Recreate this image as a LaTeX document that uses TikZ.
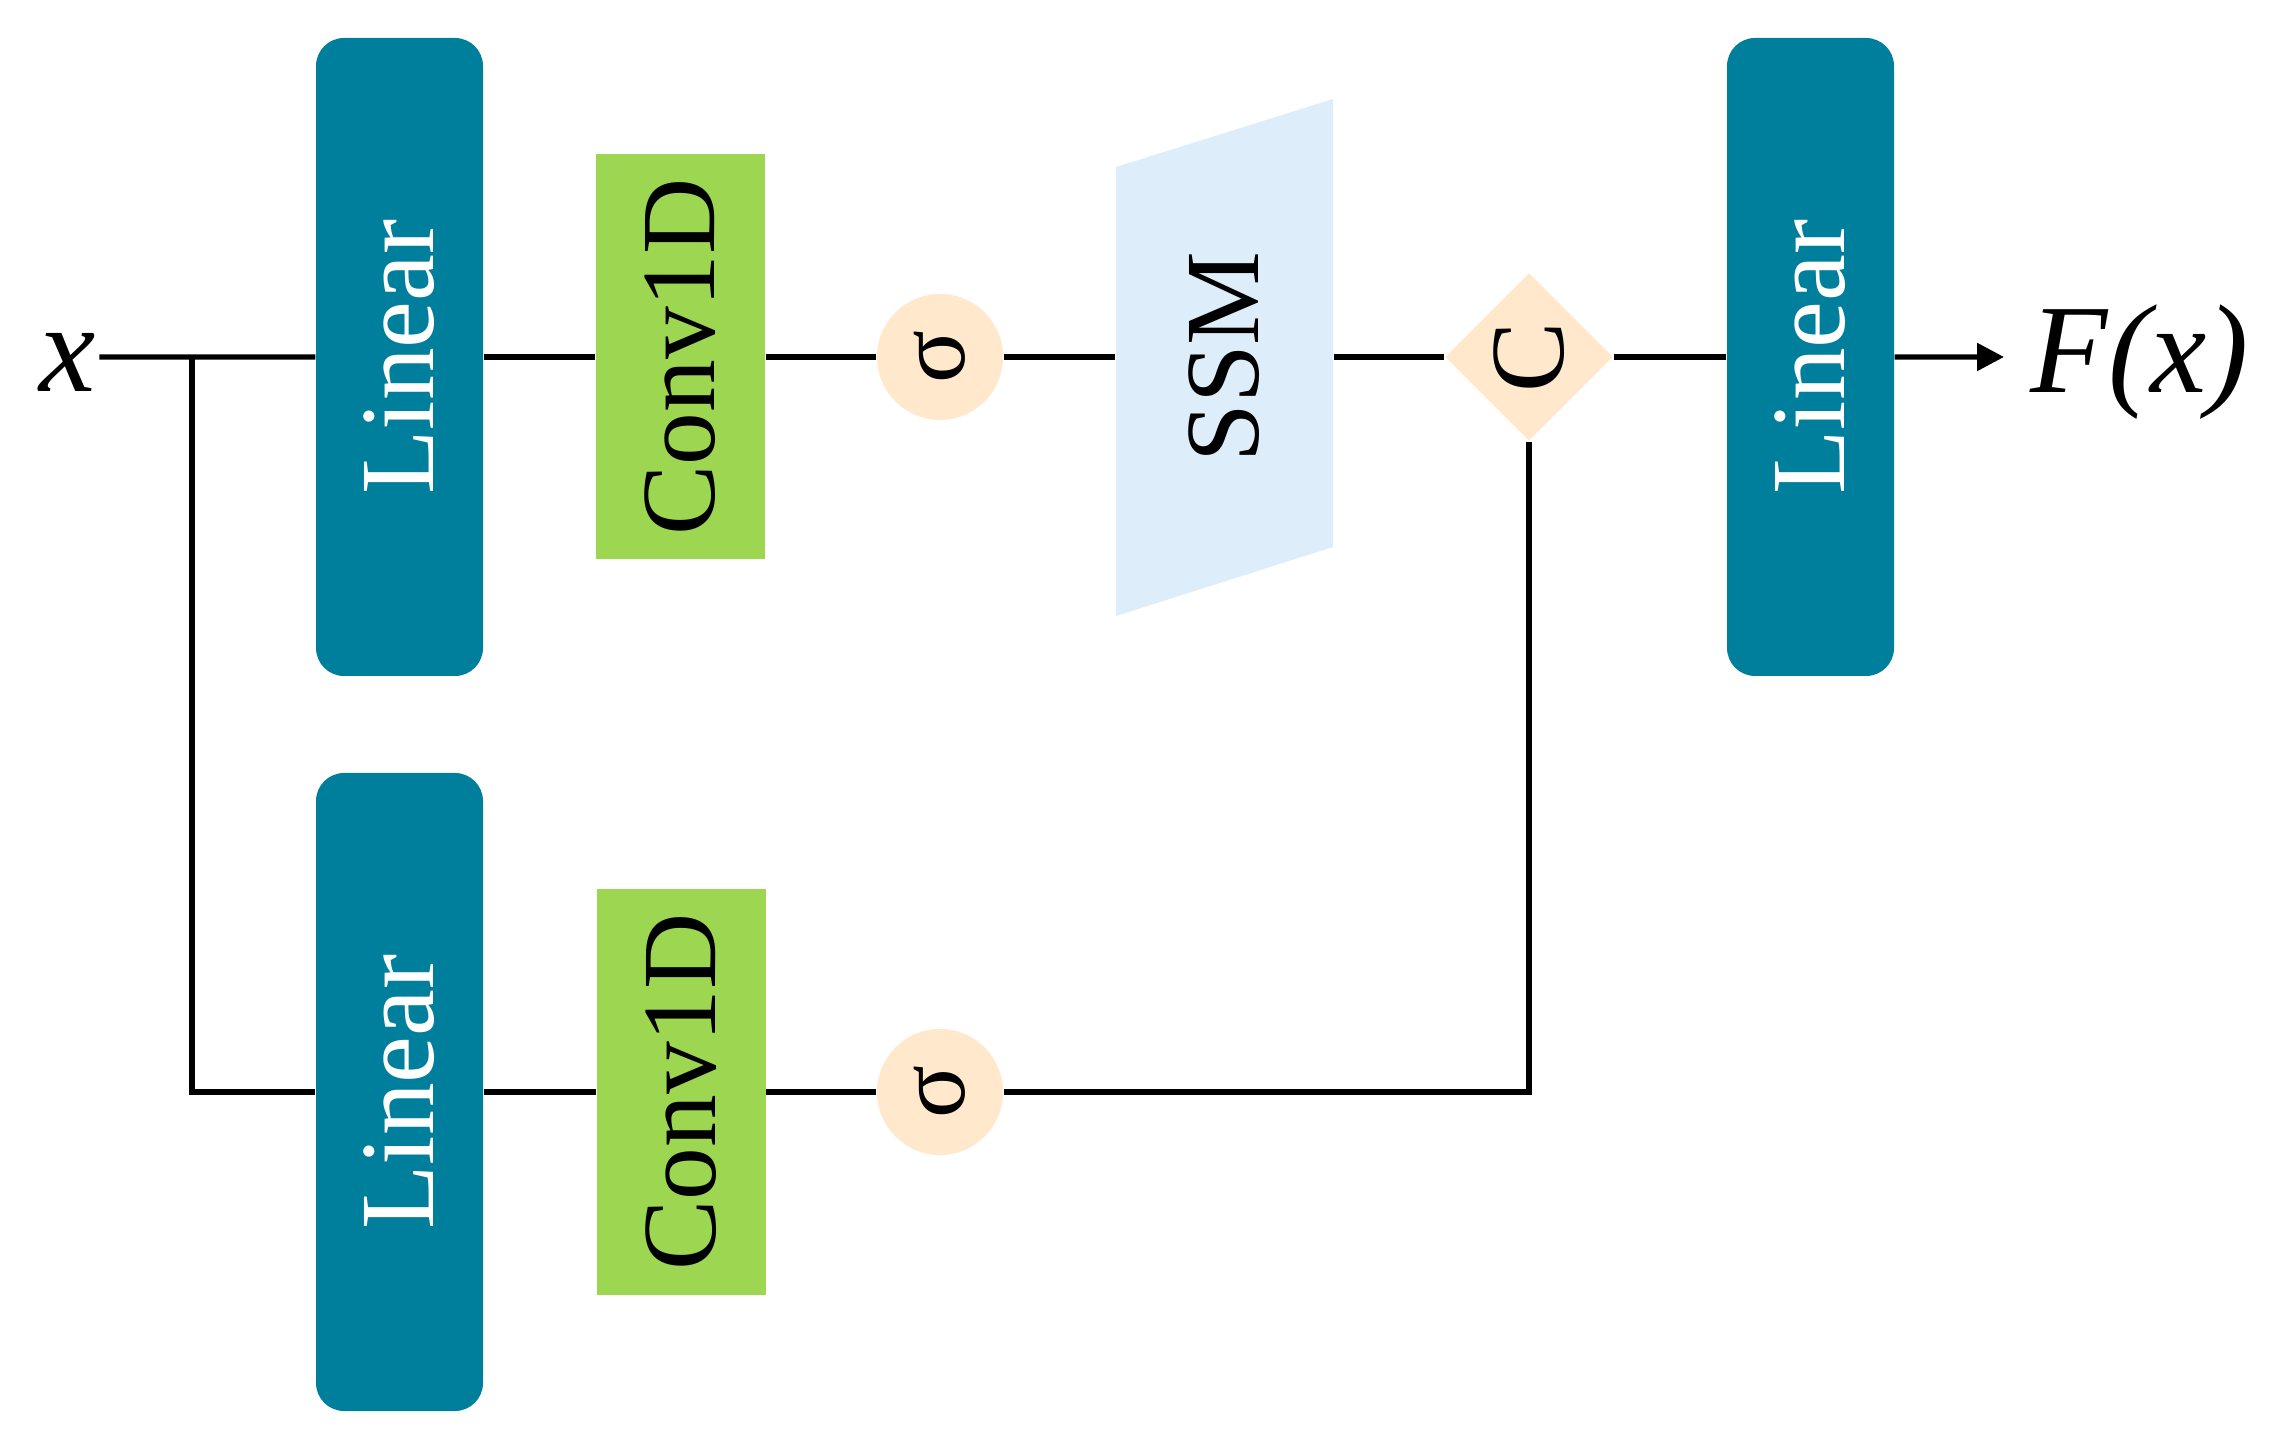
\documentclass[tikz,border=0pt]{standalone}
\usepackage{fontspec}
\setmainfont{Liberation Serif}
\usepackage{graphicx}
\usetikzlibrary{arrows.meta,shapes.geometric,calc}
\definecolor{tealbox}{HTML}{007F9D}
\definecolor{greenbox}{HTML}{9DD651}
\definecolor{ssmblue}{HTML}{DDEDF9}
\definecolor{peach}{HTML}{FFE8CC}
\begin{document}
\begin{tikzpicture}[
  bigfont/.style={font=\fontsize{30}{36}\selectfont},
  linbox/.style={rectangle, rounded corners=0.28cm, fill=tealbox, text=white,
    minimum width=1.67cm, minimum height=6.38cm, inner sep=0pt, bigfont},
  convbox/.style={rectangle, fill=greenbox, text=black,
    minimum width=1.69cm, minimum height=4.05cm, inner sep=0pt, bigfont},
  sigc/.style={circle, fill=peach, minimum size=1.26cm, inner sep=0pt,
    font=\fontsize{28}{34}\selectfont},
  diam/.style={diamond, fill=peach, minimum width=1.68cm, minimum height=1.68cm,
    inner sep=0pt, bigfont},
  wire/.style={line width=1.5pt, draw=black},
  lbl/.style={font=\fontsize{36}{42}\selectfont\itshape, inner sep=0pt}
]
\useasboundingbox (0,0) rectangle (22.73,14.55);

% SSM parallelogram
\fill[ssmblue] (11.16,12.88) -- (13.33,13.56) -- (13.33,9.08) -- (11.16,8.39) -- cycle;

% nodes
\node[lbl] (xlab) at (0.675,10.93) {x};
\node[linbox] (lin1) at (3.995,10.98) {\rotatebox{90}{Linear}};
\node[convbox] (conv1) at (6.805,10.98) {\rotatebox{90}{Conv1D}};
\node[sigc] (sig1) at (9.40,10.98) {\rotatebox{90}{σ}};
\node[rectangle, minimum width=2.17cm, minimum height=4.0cm, inner sep=0pt, bigfont]
  (ssm) at (12.245,10.98) {\rotatebox{90}{SSM}};
\node[diam] (dia) at (15.29,10.98) {\rotatebox{90}{C}};
\node[linbox] (lin3) at (18.105,10.98) {\rotatebox{90}{Linear}};
\node[lbl, anchor=west] (fx) at (20.30,10.93) {F(x)};

\node[linbox] (lin2) at (3.995,3.63) {\rotatebox{90}{Linear}};
\node[convbox] (conv2) at (6.81,3.63) {\rotatebox{90}{Conv1D}};
\node[sigc] (sig2) at (9.40,3.63) {\rotatebox{90}{σ}};

\coordinate (br) at (1.92,10.98);

% connectors
\draw[wire] ($(xlab.east)+(0.03,0.05)$) -- (lin1.west);
\draw[wire] (lin1) -- (conv1);
\draw[wire] (conv1) -- (sig1);
\draw[wire] (sig1) -- (ssm);
\draw[wire] (ssm) -- (dia);
\draw[wire] (dia) -- (lin3);
\draw[wire, -{Triangle[length=0.27cm,width=0.27cm]}] (lin3.east) -- ($(fx.west)+(-0.26,0.05)$);
\draw[wire] (br) |- (lin2.west);
\draw[wire] (lin2) -- (conv2);
\draw[wire] (conv2) -- (sig2);
\draw[wire] (sig2.east) -| (dia.south);
\end{tikzpicture}
\end{document}
